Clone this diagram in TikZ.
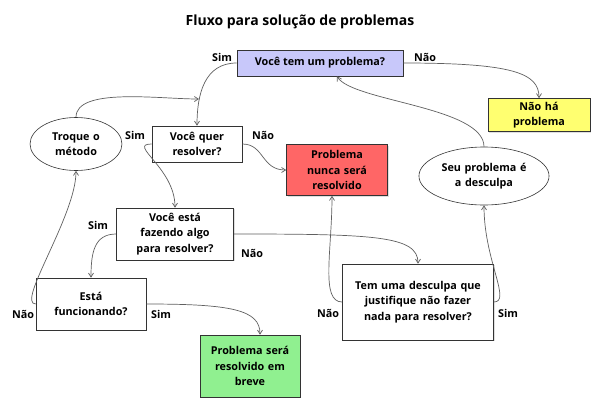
\documentclass[tikz,border=0pt]{standalone}
\usepackage{fontspec}
\setmainfont{Open Sans}
\usetikzlibrary{shapes.geometric,shadows,arrows.meta}
\definecolor{lav}{HTML}{C8C8FA}
\definecolor{yel}{HTML}{FFFF70}
\definecolor{redb}{HTML}{FF6666}
\definecolor{grn}{HTML}{90F090}
\definecolor{ln}{HTML}{606060}
\begin{document}
\begin{tikzpicture}[x=1pt,y=-1pt,
  txt/.style={font=\fontsize{10.8}{15.5}\selectfont\bfseries, align=center},
  box/.style={txt, draw=black!80, fill=white, inner sep=0pt, line width=0.6pt,
     drop shadow={shadow xshift=1pt, shadow yshift=-1pt, opacity=0.25}},
  oval/.style={txt, ellipse, draw=black!80, fill=white, inner sep=0pt, line width=0.6pt},
  conn/.style={draw=ln, line width=0.7pt, -{Straight Barb[length=4pt,width=5pt]}},
  lab/.style={txt}]
\useasboundingbox (0,0) rectangle (600,408);
\fill[white] (0,0) rectangle (600,408);
\node[txt, font=\fontsize{14}{16}\selectfont\bfseries] (title) at (300,22) {Fluxo para solução de problemas};

\node[box, fill=lav, minimum width=166, minimum height=26] (A) at (320,63) {Você tem um problema?};
\node[box, fill=yel, minimum width=102, minimum height=33, text width=95] (B) at (539,115) {Não há\\problema};
\node[oval, minimum width=76, minimum height=53, text width=65] (C) at (76,144) {Troque o\\método};
\node[box, minimum width=90, minimum height=36, text width=85] (D) at (197,144) {Você quer\\resolver?};
\node[box, fill=redb, minimum width=101, minimum height=51, text width=95] (E) at (337,170) {Problema\\nunca será\\resolvido};
\node[oval, minimum width=98, minimum height=58, text width=92] (F) at (484,176) {Seu problema é\\a desculpa};
\node[box, minimum width=117, minimum height=52, text width=110] (G) at (175,234) {Você está\\fazendo algo\\para resolver?};
\node[box, minimum width=110, minimum height=52, text width=105] (H) at (91,304) {Está\\funcionando?};
\node[box, fill=grn, minimum width=100, minimum height=62, text width=98] (I) at (250,366) {Problema será\\resolvido em\\breve};
\node[box, minimum width=151, minimum height=76, text width=148] (J) at (418,302) {Tem uma desculpa que\\justifique não fazer\\nada para resolver?};

\node[lab] (l1) at (222,57) {Sim};
\node[lab] (l2) at (425,57) {Não};
\node[lab] (l3) at (135,135) {Sim};
\node[lab] (l4) at (263,135) {Não};
\node[lab] (l5) at (98,225) {Sim};
\node[lab] (l6) at (252,253) {Não};
\node[lab] (l7) at (23,314) {Não};
\node[lab] (l8) at (161,314) {Sim};
\node[lab] (l9) at (328,313) {Não};
\node[lab] (l10) at (508,313) {Sim};

\coordinate (m) at (199,99);
\draw[conn] (A.west) .. controls +(-32,0) and +(0,-32) .. (D.north);
\draw[conn] (C.north) .. controls +(0,-30) and +(-40,0) .. (m);
\draw[conn] (A.east) .. controls +(110,0) and +(0,-25) .. (B.north);
\draw[conn] (F.north) .. controls +(0,-40) and +(15,25) .. ([xshift=17]A.south);
\draw[conn] (D.east) .. controls +(22,0) and +(-25,0) .. (E.west);
\draw[conn] (D.west) .. controls +(-25,0) and +(0,-40) .. (G.north);
\draw[conn] (G.west) .. controls +(-22,0) and +(0,-25) .. (H.north);
\draw[conn] (G.east) .. controls +(140,0) and +(0,-28) .. (J.north);
\draw[conn] (H.west) .. controls +(-20,0) and +(0,45) .. (C.south);
\draw[conn] (H.east) .. controls +(85,0) and +(0,-25) .. ([xshift=10]I.north);
\draw[conn] (J.west) .. controls +(-22,0) and +(0,55) .. ([xshift=-5]E.south);
\draw[conn] (J.east) .. controls +(18,0) and +(0,55) .. (F.south);
\end{tikzpicture}
\end{document}
